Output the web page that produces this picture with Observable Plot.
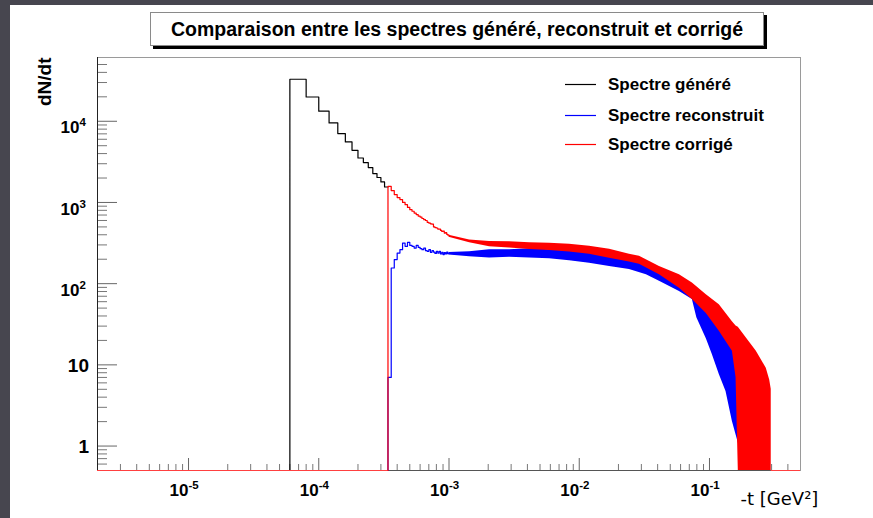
<!DOCTYPE html>
<html><head><meta charset="utf-8">
<script src="https://cdn.jsdelivr.net/npm/d3@7"></script>
<script src="https://cdn.jsdelivr.net/npm/@observablehq/plot@0.6"></script>
<style>
html,body{margin:0;padding:0;background:#fff;}
#wrap{position:relative;width:873px;height:518px;overflow:hidden;background:#fff;}
#wrap svg{position:absolute;left:0;top:0;}
.band{position:absolute;background:#47464f;z-index:3;}
#title{position:absolute;z-index:2;left:150px;top:12px;width:612px;height:32px;border:1px solid #8a8a8a;background:#fff;box-shadow:3px 3px 0 #000;font:bold 19.5px "Liberation Sans",Arial,Helvetica,sans-serif;display:flex;align-items:center;justify-content:center;color:#000;}
</style></head><body>
<div id="wrap">
  <div class="band" style="left:0;top:0;width:10px;height:518px"></div>
  <div class="band" style="left:0;top:0;width:873px;height:5px"></div>
  <div id="title">Comparaison entre les spectres généré, reconstruit et corrigé</div>
</div>
<script>
// ---- axis domain ----
const xMin = 2e-6, xMax = 0.5;
const yMin = 0.5, yMax = 6.1e4;

// ---- ticks ----
const xMajor = [1e-5, 1e-4, 1e-3, 1e-2, 1e-1];
const xExponents = ["-5", "-4", "-3", "-2", "-1"];
const xMinor = [3e-6,4e-6,5e-6,6e-6,7e-6,8e-6,9e-6,
  2e-5,3e-5,4e-5,5e-5,6e-5,7e-5,8e-5,9e-5,
  2e-4,3e-4,4e-4,5e-4,6e-4,7e-4,8e-4,9e-4,
  2e-3,3e-3,4e-3,5e-3,6e-3,7e-3,8e-3,9e-3,
  2e-2,3e-2,4e-2,5e-2,6e-2,7e-2,8e-2,9e-2,
  2e-1,3e-1,4e-1];
const yMajor = [1, 10, 100, 1000, 10000];
const yPlainTicks = [1, 10];
const yPlainLabels = ["1", "10"];
const yPowTicks = [100, 1000, 10000];
const yPowExponents = ["2", "3", "4"];
const yMinor = [0.6,0.7,0.8,0.9,
  2,3,4,5,6,7,8,9,
  20,30,40,50,60,70,80,90,
  200,300,400,500,600,700,800,900,
  2000,3000,4000,5000,6000,7000,8000,9000,
  20000,30000,40000,50000];

// ---- generated spectrum (black), bins of width 2e-5 (left edges) ----
const genT = [0.00006,0.00008,0.00010,0.00012,0.00014,0.00016,0.00018,0.00020,0.00022,0.00024,0.00026,0.00028,0.00030,0.00032];
const genN = [32900,19900,13300,9530,7050,5560,4390,3530,3100,2690,2270,2030,1790,1550];
const genTEnd = 0.00034;

// ---- low-t bins for reconstructed (blue) and corrected (red) ----
const lowT = [0.00034,0.00036,0.00038,0.00040,0.00042,0.00044,0.00046,0.00048,0.00050,0.00052,0.00054,
  0.00056,0.00058,0.00060,0.00062,0.00064,0.00066,0.00068,0.00070,0.00072,0.00074,0.00076,
  0.00078,0.00080,0.00082,0.00084,0.00086,0.00088,0.00090,0.00092,0.00094,0.00096,0.00098];
const lowTEnd = 0.0010;
const corrN = [1580,1400,1250,1150,1085,1000,940,870,815,780,740,
  710,680,660,635,614,600,570,557,545,540,500,
  490,485,470,470,452,440,445,420,425,405,395];
const recoN = [7,156,198,238,262,316,288,322,296,288,274,
  296,280,270,262,274,255,250,262,243,255,245,
  236,250,238,250,232,243,228,241,232,245,234];

// ---- high-t region: spread (min / max) of the fluctuating bins ----
const corrBandT  = [0.0010,0.00144,0.00205,0.00292,0.00416,0.00592,0.00842,0.0120,0.0171,0.0243,0.0290,0.0413,0.0588,0.0739,0.0946,0.119,0.150,0.160,0.1665,0.192,0.229,0.273,0.290,0.298];
const corrBandLo = [372,318,285,274,264,256,246,230,205,185,173,129,88,64,43,26,14.7,7,0.5,0.5,0.5,0.5,0.5,0.5];
const corrBandHi = [395,345,330,328,318,314,305,288,265,230,217,163,129,102,73,55,34,30,29,21.4,14.7,9.1,6.5,5.0];
const recoBandT  = [0.0010,0.00144,0.00205,0.00292,0.00416,0.00592,0.00842,0.0120,0.0171,0.0243,0.0328,0.0413,0.0588,0.0739,0.080,0.0946,0.105,0.119,0.134,0.150,0.169];
const recoBandLo = [226,214,207,211,207,203,192,179,163,149,129,107,80,64,38,21,13.5,7.6,4.7,2.0,1.0];
const recoBandHi = [242,248,262,262,270,262,250,238,228,207,179,159,120,95,90,68,60,48,38,30,22];

// empty bins (drawn on the floor of the log axis)
const corrEmpty = [[xMin, 0.00034], [0.298, xMax]];

// ---- build tables ----
const steps = (T, N, tEnd) => [{t: xMin, v: yMin}, ...T.map((t, i) => ({t, v: N[i]})), {t: tEnd, v: N[N.length - 1]}];
const genPts = steps(genT, genN, genTEnd);
const corrPts = steps(lowT, corrN, lowTEnd);
const recoPts = steps(lowT, recoN, lowTEnd);
const corrBand = corrBandT.map((t, i) => ({t, lo: corrBandLo[i], hi: corrBandHi[i]}));
const recoBand = recoBandT.map((t, i) => ({t, lo: recoBandLo[i], hi: recoBandHi[i]}));

const FONT = '"Liberation Sans", Arial, Helvetica, sans-serif';
const W = 873, H = 518, mL = 97, mR = 73, mT = 57, mB = 48;
const fw = W - mL - mR, fh = H - mT - mB;

const chart = Plot.plot({
  width: W, height: H,
  marginLeft: mL, marginRight: mR, marginTop: mT, marginBottom: mB,
  style: {background: "#fff", overflow: "visible"},
  x: {type: "log", domain: [xMin, xMax], axis: null},
  y: {type: "log", domain: [yMin, yMax], axis: null},
  marks: [
    Plot.frame({stroke: "#9a9a9a"}),
    Plot.ruleX(xMinor, {x: d => d, stroke: "#777", insetTop: fh - 6}),
    Plot.ruleX(xMajor, {x: d => d, stroke: "#666", insetTop: fh - 12}),
    Plot.ruleY(yMinor, {y: d => d, stroke: "#777", insetRight: fw - 10}),
    Plot.ruleY(yMajor, {y: d => d, stroke: "#666", insetRight: fw - 20}),
    Plot.ruleX([xMin], {stroke: "#222"}),
    Plot.ruleY([yMin], {stroke: "#555"}),
    // histograms
    Plot.line(genPts, {x: "t", y: "v", curve: "step-after", stroke: "#000", strokeWidth: 1.2}),
    Plot.line(recoPts, {x: "t", y: "v", curve: "step-after", stroke: "#0000ff", strokeWidth: 1.2}),
    Plot.areaY(recoBand, {x: "t", y1: "lo", y2: "hi", fill: "#0000ff"}),
    Plot.line(corrPts, {x: "t", y: "v", curve: "step-after", stroke: "#ff0000", strokeWidth: 1.2}),
    Plot.areaY(corrBand, {x: "t", y1: "lo", y2: "hi", fill: "#ff0000"}),
    Plot.ruleY(corrEmpty, {x1: d => d[0], x2: d => d[1], y: () => yMin, stroke: "#ff4040"}),
    // x tick labels 10^n
    Plot.text(xMajor, {x: d => d, frameAnchor: "bottom", text: () => "10", textAnchor: "end", lineAnchor: "middle", dy: 19.6, fontSize: 17, fontWeight: "bold", fontFamily: FONT, fill: "#000"}),
    Plot.text(xMajor, {x: d => d, frameAnchor: "bottom", text: (d, i) => xExponents[i], textAnchor: "start", lineAnchor: "middle", dy: 14.5, fontSize: 11.5, fontWeight: "bold", fontFamily: FONT, fill: "#000"}),
    // y tick labels
    Plot.text(yPlainTicks, {y: d => d, frameAnchor: "left", text: (d, i) => yPlainLabels[i], textAnchor: "end", lineAnchor: "middle", dx: -8.5, dy: 1.2, fontSize: 19, fontWeight: "bold", fontFamily: FONT, fill: "#000"}),
    Plot.text(yPowTicks, {y: d => d, frameAnchor: "left", text: () => "10", textAnchor: "end", lineAnchor: "middle", dx: -18, dy: 6.6, fontSize: 17, fontWeight: "bold", fontFamily: FONT, fill: "#000"}),
    Plot.text(yPowTicks, {y: d => d, frameAnchor: "left", text: (d, i) => yPowExponents[i], textAnchor: "start", lineAnchor: "middle", dx: -18, dy: 1.5, fontSize: 11.5, fontWeight: "bold", fontFamily: FONT, fill: "#000"}),
    // axis titles
    Plot.text(["dN/dt"], {frameAnchor: "top-left", text: d => d, rotate: -90, textAnchor: "end", lineAnchor: "middle", dx: -53, dy: 0, fontSize: 19, fontWeight: "bold", fontFamily: FONT, fill: "#000"}),
    Plot.text(["-t [GeV²]"], {frameAnchor: "bottom-right", text: d => d, textAnchor: "start", lineAnchor: "middle", dx: -60, dy: 28.6, fontSize: 18, fontFamily: '"DejaVu Sans", sans-serif', fill: "#000"})
  ]
});

document.getElementById("wrap").prepend(chart);

// legend
const legendEntries = [
  {label: "Spectre généré", color: "#000"},
  {label: "Spectre reconstruit", color: "#0000ff"},
  {label: "Spectre corrigé", color: "#ff0000"}
];
const legendY = [84, 115, 144];
const svg = d3.select(chart);
const lg = svg.append("g").attr("text-anchor", "start");
legendEntries.forEach((e, i) => {
  lg.append("line").attr("x1", 565).attr("x2", 596).attr("y1", legendY[i] + 0.5).attr("y2", legendY[i] + 0.5)
    .attr("stroke", e.color).attr("stroke-width", 1.2);
  lg.append("text").attr("x", 608).attr("y", legendY[i]).attr("dy", "0.35em").attr("text-anchor", "start")
    .attr("font-family", FONT).attr("font-weight", "bold").attr("font-size", 17).attr("fill", "#000").text(e.label);
});
</script>
</body></html>
